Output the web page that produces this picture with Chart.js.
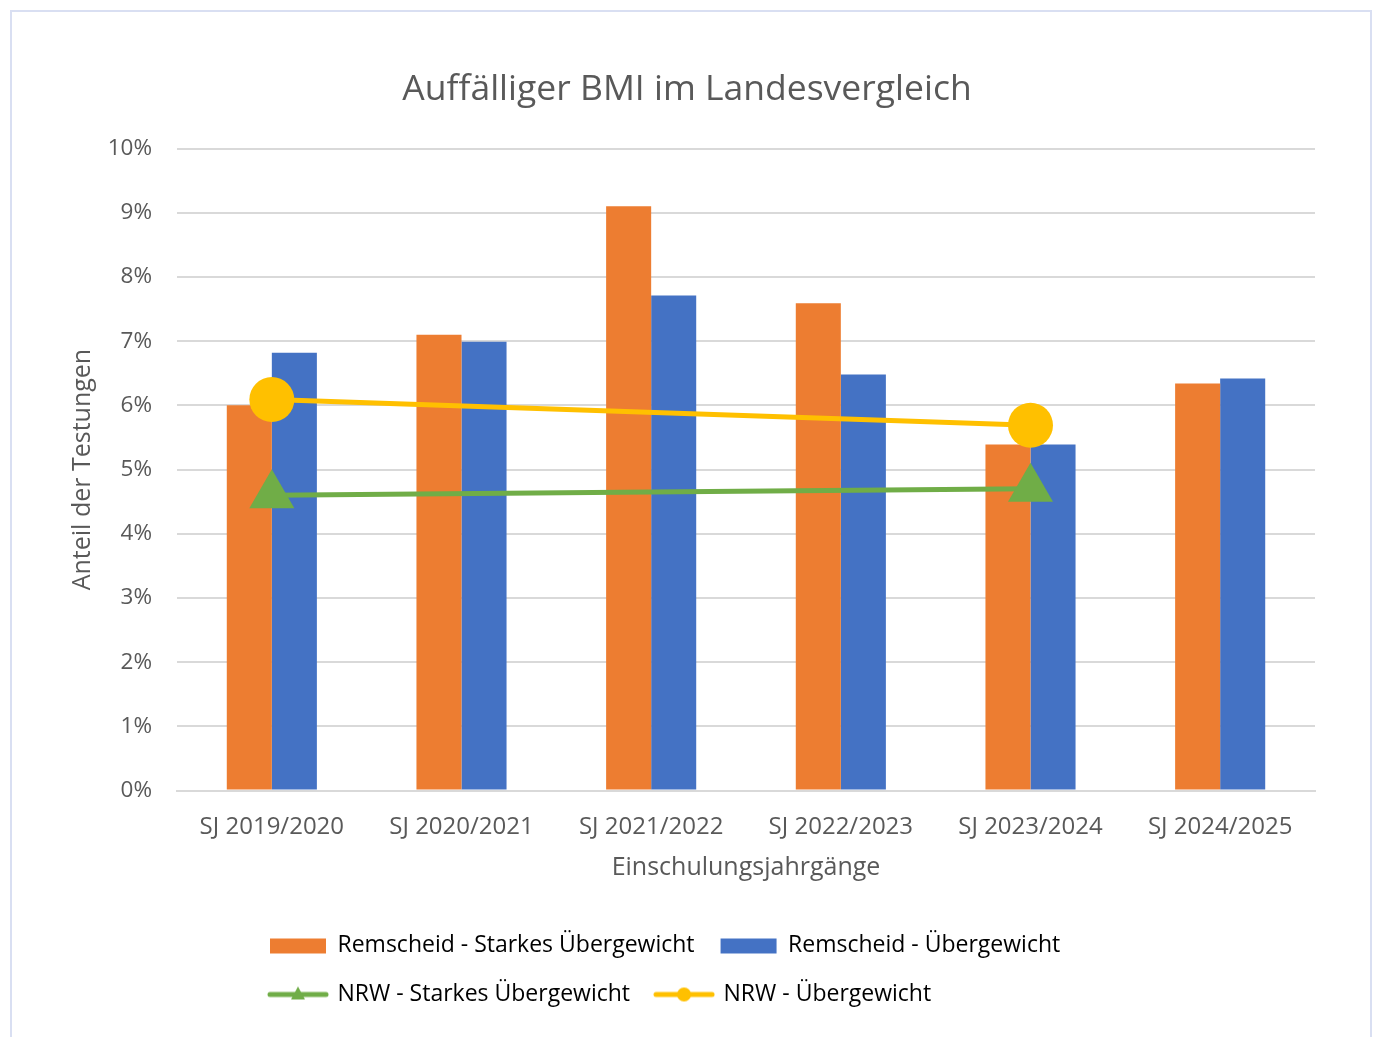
<!DOCTYPE html>
<html lang="de">
<head>
<meta charset="UTF-8">
<title>Auffälliger BMI im Landesvergleich</title>
<style>
    body {
        margin: 0;
        background: #ffffff;
    }

    .frame {
        position: absolute;
        left: 10px;
        top: 10px;
        width: 1358px;
        height: 1040px;
        border: 2px solid #d9dff2;
    }

    canvas {
        display: block;
    }
</style>
</head>
<body>

<div class="frame">
    <canvas id="bmiChart" width="1358" height="1030"></canvas>
</div>

<script src="https://cdn.jsdelivr.net/npm/chart.js"></script>
<script>
    // Werte in Prozent
    const jahrgaenge = ['SJ 2019/2020', 'SJ 2020/2021', 'SJ 2021/2022', 'SJ 2022/2023', 'SJ 2023/2024', 'SJ 2024/2025'];
    const remscheidStark = [6.0, 7.1, 9.1, 7.59, 5.39, 6.34];
    const remscheidUeber = [6.82, 6.99, 7.71, 6.48, 5.39, 6.42];
    const nrwStark = [4.6, null, null, null, 4.7, null];
    const nrwUeber = [6.09, null, null, null, 5.69, null];

    const ORANGE = '#ED7D31';
    const BLUE = '#4472C4';
    const GREEN = '#70AD47';
    const YELLOW = '#FFC000';
    const TEXT = '#595959';
    const GRID = '#d9d9d9';

    Chart.defaults.font.family = '"Open Sans", sans-serif';
    Chart.defaults.color = TEXT;

    // kleine Bilder fuer die Legende (Balken bzw. Linie mit Marker)
    function legendIcon(kind, color, marker) {
        const c = document.createElement('canvas');
        c.width = 62;
        c.height = 20;
        const g = c.getContext('2d');
        if (kind === 'bar') {
            g.fillStyle = color;
            g.fillRect(3, 3, 56, 15);
        } else {
            g.strokeStyle = color;
            g.fillStyle = color;
            g.lineWidth = 5;
            g.lineCap = 'round';
            g.beginPath();
            g.moveTo(3, 10);
            g.lineTo(59, 10);
            g.stroke();
            g.beginPath();
            if (marker === 'triangle') {
                g.moveTo(31, 2);
                g.lineTo(38, 15);
                g.lineTo(24, 15);
                g.closePath();
            } else {
                g.arc(31, 10, 7, 0, Math.PI * 2);
            }
            g.fill();
        }
        return c;
    }

    const legendEntries = [
        { text: 'Remscheid - Starkes Übergewicht', icon: legendIcon('bar', ORANGE), idx: 0 },
        { text: 'Remscheid - Übergewicht', icon: legendIcon('bar', BLUE), idx: 1 },
        { text: 'NRW - Starkes Übergewicht', icon: legendIcon('line', GREEN, 'triangle'), idx: 2 },
        { text: 'NRW - Übergewicht', icon: legendIcon('line', YELLOW, 'circle'), idx: 3 }
    ];

    // Legende nach zwei Eintraegen umbrechen, Zeilen links buendig ab x=270
    const legendWrap = {
        id: 'legendWrap',
        afterInit(chart) {
            const lg = chart.legend;
            const update = lg.update.bind(lg);
            lg.update = (w, h, m) => update(Math.min(w, 1000), h, m);
        },
        afterLayout(chart) {
            chart.legend.left = 232;
        }
    };

    const ctx = document.getElementById('bmiChart').getContext('2d');

    new Chart(ctx, {
        type: 'bar',
        data: {
            labels: jahrgaenge,
            datasets: [
                {
                    label: 'Remscheid - Starkes Übergewicht',
                    data: remscheidStark,
                    backgroundColor: ORANGE,
                    order: 2
                },
                {
                    label: 'Remscheid - Übergewicht',
                    data: remscheidUeber,
                    backgroundColor: BLUE,
                    order: 2
                },
                {
                    type: 'line',
                    label: 'NRW - Starkes Übergewicht',
                    data: nrwStark,
                    borderColor: GREEN,
                    backgroundColor: GREEN,
                    borderWidth: 5,
                    spanGaps: true,
                    pointStyle: 'triangle',
                    pointRadius: 26,
                    pointBorderWidth: 0,
                    order: 1
                },
                {
                    type: 'line',
                    label: 'NRW - Übergewicht',
                    data: nrwUeber,
                    borderColor: YELLOW,
                    backgroundColor: YELLOW,
                    borderWidth: 5,
                    spanGaps: true,
                    pointStyle: 'circle',
                    pointRadius: 22.5,
                    pointBorderWidth: 0,
                    order: 1
                }
            ]
        },
        options: {
            responsive: false,
            animation: false,
            categoryPercentage: 0.475,
            barPercentage: 1.0,
            layout: {
                padding: { left: 47, right: 55, top: 0, bottom: 26 }
            },
            plugins: {
                title: {
                    display: true,
                    text: 'Auffälliger BMI im Landesvergleich',
                    color: TEXT,
                    font: { size: 35.5, weight: 'normal' },
                    padding: { top: 57, bottom: 37 }
                },
                legend: {
                    position: 'bottom',
                    align: 'start',
                    labels: {
                        usePointStyle: true,
                        pointStyleWidth: 56,
                        padding: 26,
                        color: TEXT,
                        font: { size: 23 },
                        generateLabels: () => legendEntries.map(e => ({
                            text: e.text,
                            pointStyle: e.icon,
                            fillStyle: 'transparent',
                            strokeStyle: 'transparent',
                            lineWidth: 0,
                            hidden: false,
                            datasetIndex: e.idx
                        }))
                    }
                },
                tooltip: { enabled: false }
            },
            scales: {
                x: {
                    grid: { display: false },
                    border: { color: GRID, width: 2 },
                    ticks: { color: TEXT, font: { size: 24 }, padding: 14 },
                    title: {
                        display: true,
                        text: 'Einschulungsjahrgänge',
                        color: TEXT,
                        font: { size: 25 },
                        padding: { top: 0, bottom: 25.5 }
                    },
                    afterFit(scale) {
                        scale.height = 117.5;
                    }
                },
                y: {
                    min: 0,
                    max: 10,
                    ticks: {
                        stepSize: 1,
                        color: TEXT,
                        font: { size: 22.5 },
                        padding: 25,
                        callback: v => v + '%'
                    },
                    grid: { color: GRID, lineWidth: 2, drawTicks: false },
                    border: { display: false },
                    title: {
                        display: true,
                        text: 'Anteil der Testungen',
                        color: TEXT,
                        font: { size: 25 },
                        padding: { top: 9, bottom: 0 }
                    },
                    afterFit(scale) {
                        scale.width = 118;
                    }
                }
            }
        },
        plugins: [legendWrap]
    });
</script>
</body>
</html>
